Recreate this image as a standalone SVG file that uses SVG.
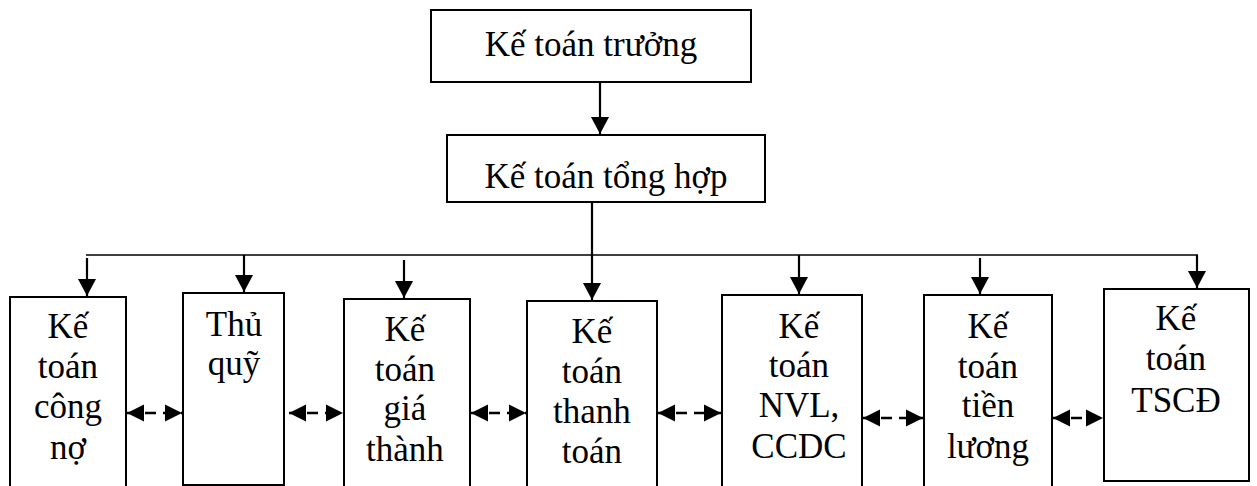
<svg xmlns="http://www.w3.org/2000/svg" width="1257" height="486" viewBox="0 0 1257 486">
  <defs>
    <style>
      .box { fill: #fff; stroke: #000; stroke-width: 2; }
      .lbl { font-family: "Liberation Serif", "Times New Roman", serif; font-size: 35px; fill: #000; text-anchor: middle; }
      .wire { stroke: #000; stroke-width: 2.2; fill: none; }
      .bus { stroke: #000; stroke-width: 1.5; fill: none; }
      .link { stroke: #000; stroke-width: 2.5; fill: none; stroke-dasharray: 11 7; }
    </style>
    <marker id="head" markerUnits="userSpaceOnUse" markerWidth="20" markerHeight="20" refX="17" refY="10" orient="auto">
      <path d="M0,1 L17,10 L0,19 z" fill="#000"/>
    </marker>
    <marker id="tip" markerUnits="userSpaceOnUse" markerWidth="20" markerHeight="18" refX="17" refY="9" orient="auto-start-reverse">
      <path d="M0,0.5 L17,9 L0,17.5 z" fill="#000"/>
    </marker>
  </defs>

  <!-- top level -->
  <g id="ke-toan-truong">
    <rect class="box" x="431" y="10" width="320" height="72"/>
    <text class="lbl" x="591" y="56">Kế toán trưởng</text>
  </g>
  <g id="ke-toan-tong-hop">
    <rect class="box" x="447" y="135" width="318" height="67"/>
    <text class="lbl" x="606" y="188">Kế toán tổng hợp</text>
  </g>

  <!-- department boxes -->
  <g id="cong-no">
    <rect class="box" x="10" y="297" width="116" height="200"/>
    <text class="lbl" x="68" y="338">Kế</text>
    <text class="lbl" x="68" y="378">toán</text>
    <text class="lbl" x="68" y="418">công</text>
    <text class="lbl" x="68" y="459">nợ</text>
  </g>
  <g id="thu-quy">
    <rect class="box" x="183" y="293" width="101" height="192"/>
    <text class="lbl" x="234" y="336">Thủ</text>
    <text class="lbl" x="234" y="375">quỹ</text>
  </g>
  <g id="gia-thanh">
    <rect class="box" x="344" y="299" width="126" height="200"/>
    <text class="lbl" x="405" y="341">Kế</text>
    <text class="lbl" x="405" y="381">toán</text>
    <text class="lbl" x="405" y="420">giá</text>
    <text class="lbl" x="405" y="461">thành</text>
  </g>
  <g id="thanh-toan">
    <rect class="box" x="527" y="301" width="130" height="200"/>
    <text class="lbl" x="592" y="343">Kế</text>
    <text class="lbl" x="592" y="383">toán</text>
    <text class="lbl" x="592" y="423">thanh</text>
    <text class="lbl" x="592" y="463">toán</text>
  </g>
  <g id="nvl-ccdc">
    <rect class="box" x="722" y="295" width="140" height="200"/>
    <text class="lbl" x="799" y="338">Kế</text>
    <text class="lbl" x="799" y="377">toán</text>
    <text class="lbl" x="799" y="417">NVL,</text>
    <text class="lbl" x="799" y="458">CCDC</text>
  </g>
  <g id="tien-luong">
    <rect class="box" x="924" y="295" width="128" height="200"/>
    <text class="lbl" x="988" y="338">Kế</text>
    <text class="lbl" x="988" y="378">toán</text>
    <text class="lbl" x="988" y="417">tiền</text>
    <text class="lbl" x="988" y="458">lương</text>
  </g>
  <g id="tscd">
    <rect class="box" x="1104" y="289" width="145" height="192"/>
    <text class="lbl" x="1176" y="330">Kế</text>
    <text class="lbl" x="1176" y="370">toán</text>
    <text class="lbl" x="1176" y="412">TSCĐ</text>
  </g>

  <!-- connectors -->
  <g id="connectors">
    <line class="wire" x1="600" y1="82" x2="600" y2="134" marker-end="url(#head)"/>
    <line class="bus" x1="86" y1="255" x2="1198" y2="255"/>
    <line class="wire" x1="592" y1="202" x2="592" y2="300" marker-end="url(#head)"/>
    <line class="wire" x1="87" y1="258" x2="87" y2="296" marker-end="url(#head)"/>
    <line class="wire" x1="244" y1="255" x2="244" y2="292" marker-end="url(#head)"/>
    <line class="wire" x1="404" y1="260" x2="404" y2="298" marker-end="url(#head)"/>
    <line class="wire" x1="799" y1="255" x2="799" y2="294" marker-end="url(#head)"/>
    <line class="wire" x1="980" y1="258" x2="980" y2="294" marker-end="url(#head)"/>
    <line class="wire" x1="1197" y1="255" x2="1197" y2="288" marker-end="url(#head)"/>

    <line class="link" x1="127" y1="413" x2="182" y2="413" marker-start="url(#tip)" marker-end="url(#tip)"/>
    <line class="link" x1="289" y1="413" x2="343" y2="413" marker-start="url(#tip)" marker-end="url(#tip)"/>
    <line class="link" x1="471" y1="413" x2="526" y2="413" marker-start="url(#tip)" marker-end="url(#tip)"/>
    <line class="link" x1="658" y1="413" x2="721" y2="413" marker-start="url(#tip)" marker-end="url(#tip)"/>
    <line class="link" x1="863" y1="418" x2="923" y2="418" marker-start="url(#tip)" marker-end="url(#tip)"/>
    <line class="link" x1="1053" y1="418" x2="1103" y2="418" marker-start="url(#tip)" marker-end="url(#tip)"/>
  </g>
</svg>
